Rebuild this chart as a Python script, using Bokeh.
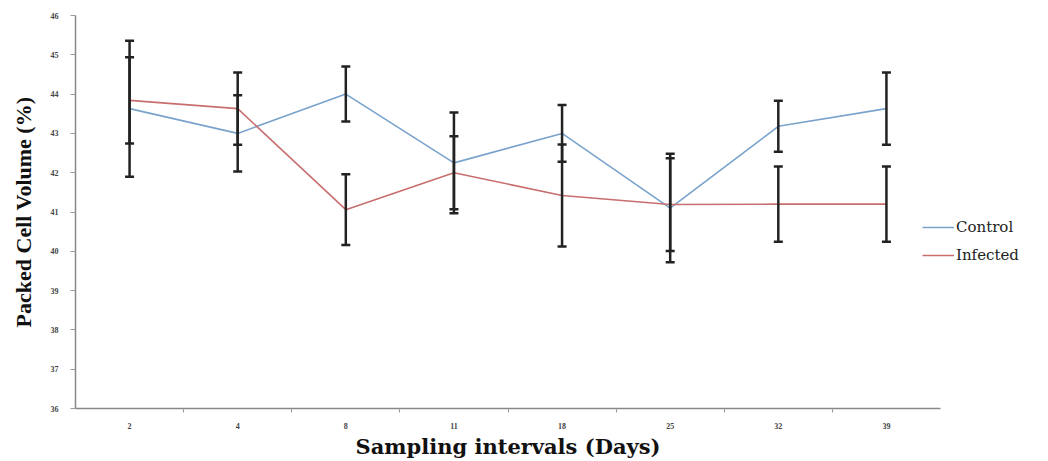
import numpy as np
from bokeh.plotting import figure
from bokeh.models import (ColumnDataSource, Whisker, TeeHead, FixedTicker, Legend, LegendItem, Range1d)
from bokeh.embed import file_html
from bokeh.resources import INLINE

days = ["2", "4", "8", "11", "18", "25", "32", "39"]
control = [43.63, 43.0, 44.0, 42.25, 43.0, 41.1, 43.18, 43.63]
control_err = [1.73, 0.97, 0.70, 1.28, 0.72, 1.38, 0.65, 0.92]
infected = [43.84, 43.63, 41.06, 42.0, 41.42, 41.19, 41.2, 41.2]
infected_err = [1.10, 0.92, 0.90, 0.93, 1.30, 1.18, 0.96, 0.96]
y_ticks = [36, 37, 38, 39, 40, 41, 42, 43, 44, 45, 46]

x = np.arange(len(days)) + 0.5

p = figure(frame_width=865, frame_height=393, output_backend="svg", toolbar_location=None,
           x_range=Range1d(0, len(days)), y_range=Range1d(36, 46),
           min_border_left=75, min_border_right=0, min_border_top=15, min_border_bottom=53)
p.outline_line_color = None
p.xgrid.grid_line_color = None
p.ygrid.grid_line_color = None
p.background_fill_color = "white"

src_c = ColumnDataSource(dict(x=x, y=control, lo=np.array(control) - np.array(control_err),
                              hi=np.array(control) + np.array(control_err)))
src_i = ColumnDataSource(dict(x=x, y=infected, lo=np.array(infected) - np.array(infected_err),
                              hi=np.array(infected) + np.array(infected_err)))

lc = p.line("x", "y", source=src_c, line_color="#7aa3cc", line_width=1.6)
li = p.line("x", "y", source=src_i, line_color="#c86e6e", line_width=1.6)

for src in (src_c, src_i):
    w = Whisker(source=src, base="x", lower="lo", upper="hi", level="annotation",
                line_color="#222222", line_width=2.5,
                upper_head=TeeHead(size=9, line_color="#222222", line_width=2.5),
                lower_head=TeeHead(size=9, line_color="#222222", line_width=2.5))
    p.add_layout(w)

# axes
font = "Liberation Serif"
wide = "DejaVu Serif"
p.xaxis.ticker = FixedTicker(ticks=list(x), minor_ticks=list(range(1, len(days))))
p.xaxis.major_label_overrides = {float(v): d for v, d in zip(x, days)}
p.xaxis.major_tick_line_color = None
p.xaxis.minor_tick_in = 0
p.xaxis.minor_tick_out = 4
p.xaxis.minor_tick_line_color = "#999999"
p.xaxis.axis_line_color = "#888888"
p.xaxis.axis_line_width = 1.5
p.xaxis.major_label_text_font = font
p.xaxis.major_label_text_font_size = "8px"
p.xaxis.major_label_text_font_style = "bold"
p.xaxis.major_label_text_color = "#444444"
p.xaxis.major_label_standoff = 8
p.xaxis.axis_label = "Sampling intervals (Days)"
p.xaxis.axis_label_text_font = wide
p.xaxis.axis_label_text_font_style = "bold"
p.xaxis.axis_label_text_font_size = "21px"
p.xaxis.axis_label_text_color = "#111111"
p.xaxis.axis_label_standoff = 2

p.yaxis.ticker = FixedTicker(ticks=y_ticks)
p.yaxis.minor_tick_line_color = None
p.yaxis.major_tick_in = 0
p.yaxis.major_tick_out = 5
p.yaxis.major_tick_line_color = "#999999"
p.yaxis.axis_line_color = "#888888"
p.yaxis.axis_line_width = 1.5
p.yaxis.major_label_text_font = font
p.yaxis.major_label_text_font_size = "8px"
p.yaxis.major_label_text_font_style = "bold"
p.yaxis.major_label_text_color = "#444444"
p.yaxis.major_label_standoff = 12
p.yaxis.axis_label = "Packed Cell Volume (%)"
p.yaxis.axis_label_text_font = font
p.yaxis.axis_label_text_font_style = "bold"
p.yaxis.axis_label_text_font_size = "22px"
p.yaxis.axis_label_text_color = "#111111"
p.yaxis.axis_label_standoff = 12

legend = Legend(items=[LegendItem(label="Control", renderers=[lc]),
                       LegendItem(label="Infected", renderers=[li])],
                location=(-18, 143), border_line_color=None, background_fill_alpha=0,
                label_text_font=wide, label_text_font_size="15px", label_text_color="#222222",
                glyph_width=32, spacing=8, padding=2, margin=0, label_standoff=2)
p.add_layout(legend, "right")

open("out.html", "w").write(file_html(p, INLINE))
